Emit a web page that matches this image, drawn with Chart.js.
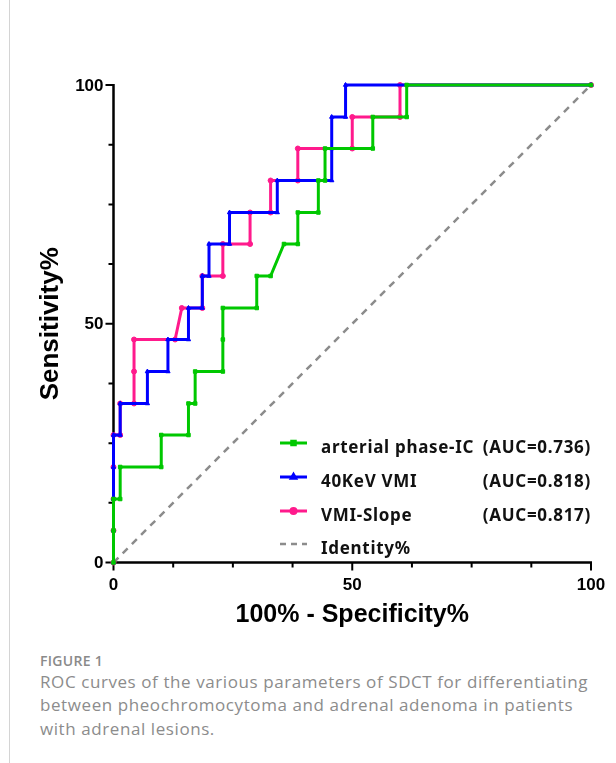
<!DOCTYPE html>
<html>
<head>
<meta charset="utf-8">
<script src="https://cdn.jsdelivr.net/npm/chart.js@4.4.0/dist/chart.umd.min.js"></script>
<style>
  html, body { margin: 0; padding: 0; background: #fff; }
  body { width: 616px; height: 763px; position: relative; overflow: hidden; }
  #wrap { position: absolute; left: 0; top: 0; width: 616px; height: 640px; }
  .border { position: absolute; left: 9px; top: 0; width: 1px; height: 763px; background: #d4d4d4; }
  .figlabel { position: absolute; left: 40px; top: 650.5px; font: 600 14px "Open Sans", sans-serif; letter-spacing: 0.3px; color: #8a8a8a; line-height: 20px; }
  .caption { position: absolute; left: 40px; top: 669.7px; margin: 0; white-space: nowrap; font: 17px "Open Sans", sans-serif; letter-spacing: 0.58px; color: #8c8c8c; line-height: 23.5px; }
</style>
</head>
<body>
<div class="border"></div>
<div id="wrap"><canvas id="roc" width="616" height="640"></canvas></div>
<div class="figlabel">FIGURE 1</div>
<p class="caption">ROC curves of the various parameters of SDCT for differentiating<br>between pheochromocytoma and adrenal adenoma in patients<br>with adrenal lesions.</p>
<script>
// ROC points (100% - specificity %, sensitivity %)
const arterialX = [0, 0, 0, 1.4, 1.4, 10, 10, 15.7, 15.7, 17.1, 17.1, 22.9, 22.9, 22.9, 30, 30, 32.9, 35.7, 38.6, 38.6, 42.9, 42.9, 44.3, 44.3, 54.3, 54.3, 61.4, 61.4, 100];
const arterialY = [0, 6.7, 13.3, 13.3, 20, 20, 26.7, 26.7, 33.3, 33.3, 40, 40, 46.7, 53.3, 53.3, 60, 60, 66.7, 66.7, 73.3, 73.3, 80, 80, 86.7, 86.7, 93.3, 93.3, 100, 100];

const kevX = [0, 0, 0, 0, 0, 1.4, 1.4, 7.1, 7.1, 11.4, 11.4, 15.7, 15.7, 18.6, 18.6, 20, 20, 24.3, 24.3, 34.3, 34.3, 45.7, 45.7, 45.7, 48.6, 48.6, 100];
const kevY = [0, 6.7, 13.3, 20, 26.7, 26.7, 33.3, 33.3, 40, 40, 46.7, 46.7, 53.3, 53.3, 60, 60, 66.7, 66.7, 73.3, 73.3, 80, 80, 86.7, 93.3, 93.3, 100, 100];

const slopeX = [0, 0, 0, 0, 0, 1.4, 1.4, 4.3, 4.3, 4.3, 12.9, 14.3, 18.6, 18.6, 22.9, 22.9, 28.6, 28.6, 32.9, 32.9, 38.6, 38.6, 50, 50, 60, 60, 100];
const slopeY = [0, 6.7, 13.3, 20, 26.7, 26.7, 33.3, 33.3, 40, 46.7, 46.7, 53.3, 53.3, 60, 60, 66.7, 66.7, 73.3, 73.3, 80, 80, 86.7, 86.7, 93.3, 93.3, 100, 100];

const identityX = [0, 100];
const identityY = [0, 100];

const seriesNames = ['arterial phase-IC', '40KeV VMI', 'VMI-Slope', 'Identity%'];
const aucLabels = ['(AUC=0.736)', '(AUC=0.818)', '(AUC=0.817)', ''];

const majorTicks = [0, 50, 100];
const minorTicks = [12.5, 25, 37.5, 62.5, 75, 87.5];

const xTitle = '100% - Specificity%';
const yTitle = 'Sensitivity%';

const GREEN = '#00c800';
const BLUE = '#0000ff';
const PINK = '#ff1a8c';
const GREY = '#8c8c8c';

function toPoints(xs, ys) {
  return xs.map((x, i) => ({ x, y: ys[i] }));
}

function curve(label, xs, ys, color, style) {
  return {
    label,
    data: toPoints(xs, ys),
    borderColor: color,
    backgroundColor: color,
    borderWidth: 3,
    pointStyle: style,
    pointRadius: 2.5,
    pointBorderWidth: 1,
    showLine: true,
    tension: 0,
    clip: 10
  };
}

// axes, ticks, titles (drawn under the curves), legend on top
const frame = {
  id: 'frame',
  beforeDatasetsDraw(chart) {
    const { ctx, chartArea: a, scales: { x, y } } = chart;
    ctx.save();
    ctx.strokeStyle = '#000';
    ctx.fillStyle = '#000';
    ctx.lineWidth = 2.5;

    ctx.beginPath();
    ctx.moveTo(a.left, a.top - 1);
    ctx.lineTo(a.left, a.bottom);
    ctx.lineTo(a.right + 1, a.bottom);
    ctx.stroke();

    ctx.lineWidth = 2;
    majorTicks.forEach(v => {
      const py = y.getPixelForValue(v);
      const px = x.getPixelForValue(v);
      ctx.beginPath();
      ctx.moveTo(a.left - 8, py); ctx.lineTo(a.left, py);
      ctx.moveTo(px, a.bottom); ctx.lineTo(px, a.bottom + 8);
      ctx.stroke();
    });
    minorTicks.forEach(v => {
      const py = y.getPixelForValue(v);
      const px = x.getPixelForValue(v);
      ctx.beginPath();
      ctx.moveTo(a.left - 5, py); ctx.lineTo(a.left, py);
      ctx.moveTo(px, a.bottom); ctx.lineTo(px, a.bottom + 5);
      ctx.stroke();
    });

    ctx.font = 'bold 17px "Liberation Sans", Arial, sans-serif';
    ctx.textAlign = 'right';
    ctx.textBaseline = 'middle';
    majorTicks.forEach(v => ctx.fillText(String(v), a.left - 10, y.getPixelForValue(v) + 1));
    ctx.textAlign = 'center';
    ctx.textBaseline = 'top';
    majorTicks.forEach(v => ctx.fillText(String(v), x.getPixelForValue(v), a.bottom + 14));

    ctx.font = 'bold 25px "Liberation Sans", Arial, sans-serif';
    ctx.textBaseline = 'middle';
    ctx.fillText(xTitle, (a.left + a.right) / 2, a.bottom + 53);
    ctx.save();
    ctx.translate(51, (a.top + a.bottom) / 2);
    ctx.rotate(-Math.PI / 2);
    ctx.font = 'bold 26px "Liberation Sans", Arial, sans-serif';
    ctx.fillText(yTitle, 0, 0);
    ctx.restore();
    ctx.restore();
  },
  afterDatasetsDraw(chart) {
    const { ctx } = chart;
    const colors = [GREEN, BLUE, PINK, GREY];
    const styles = ['rect', 'triangle', 'circle', null];
    const rows = [443, 477, 511, 544];
    ctx.save();
    rows.forEach((ry, i) => {
      ctx.strokeStyle = colors[i];
      ctx.fillStyle = colors[i];
      ctx.lineWidth = i === 3 ? 2.5 : 3;
      ctx.setLineDash(i === 3 ? [6, 5] : []);
      ctx.beginPath();
      ctx.moveTo(280, ry); ctx.lineTo(307, ry);
      ctx.stroke();
      ctx.setLineDash([]);
      if (styles[i]) Chart.helpers.drawPoint(ctx, { pointStyle: styles[i], radius: 2.5, borderWidth: 1 }, 293.5, ry);
      ctx.fillStyle = '#111';
      ctx.font = 'bold 17px "Noto Sans", sans-serif';
      ctx.letterSpacing = '0.7px';
      ctx.textBaseline = 'alphabetic';
      ctx.textAlign = 'left';
      ctx.fillText(seriesNames[i], 321, ry + 10);
      ctx.textAlign = 'right';
      ctx.fillText(aucLabels[i], 591, ry + 10);
    });
    ctx.restore();
  }
};

new Chart(document.getElementById('roc'), {
  type: 'scatter',
  data: {
    datasets: [
      curve(seriesNames[0], arterialX, arterialY, GREEN, 'rect'),
      curve(seriesNames[1], kevX, kevY, BLUE, 'triangle'),
      curve(seriesNames[2], slopeX, slopeY, PINK, 'circle'),
      {
        label: seriesNames[3],
        data: toPoints(identityX, identityY),
        borderColor: GREY,
        borderWidth: 2.5,
        borderDash: [7, 6],
        pointRadius: 0,
        showLine: true,
        clip: 10
      }
    ]
  },
  options: {
    responsive: false,
    animation: false,
    layout: { padding: { left: 113.5, right: 25, top: 85, bottom: 77.5 } },
    plugins: { legend: { display: false }, tooltip: { enabled: false } },
    scales: {
      x: { type: 'linear', min: 0, max: 100, display: false },
      y: { type: 'linear', min: 0, max: 100, display: false }
    }
  },
  plugins: [frame]
});
</script>
</body>
</html>
